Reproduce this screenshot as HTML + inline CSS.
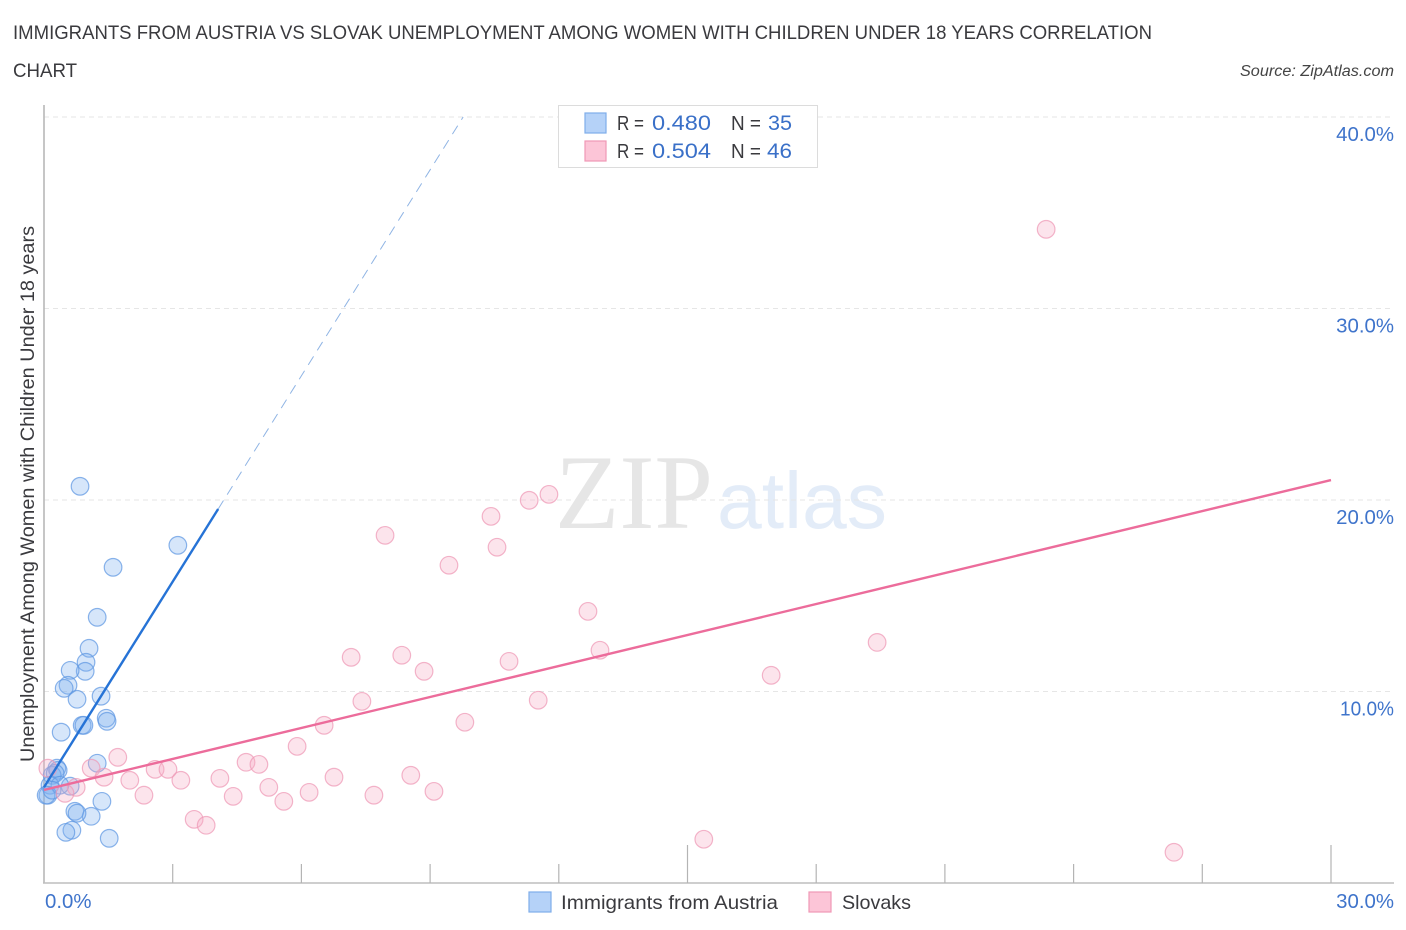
<!DOCTYPE html>
<html lang="en">
<head>
<meta charset="utf-8">
<title>Immigrants from Austria vs Slovak Unemployment Correlation Chart</title>
<style>
html,body{margin:0;padding:0;background:#fff;width:1406px;height:930px;overflow:hidden}
svg{display:block;font-family:"Liberation Sans",sans-serif}
</style>
</head>
<body>
<svg id="chart" xmlns="http://www.w3.org/2000/svg" width="1406" height="930" viewBox="0 0 1406 930">
  <g fill="#3a3a3e" font-size="19.5">
    <text x="13" y="39" textLength="1139" lengthAdjust="spacingAndGlyphs">IMMIGRANTS FROM AUSTRIA VS SLOVAK UNEMPLOYMENT AMONG WOMEN WITH CHILDREN UNDER 18 YEARS CORRELATION</text>
    <text x="13" y="77" textLength="64" lengthAdjust="spacingAndGlyphs">CHART</text>
  </g>
  <text x="1394" y="76" text-anchor="end" font-size="15.5" font-style="italic" fill="#444" textLength="154" lengthAdjust="spacingAndGlyphs">Source: ZipAtlas.com</text>

  <g>
    <text x="555" y="528" font-family="'Liberation Serif',serif" font-size="106" fill="#e6e6e6" textLength="158" lengthAdjust="spacingAndGlyphs">ZIP</text>
    <text x="717" y="528" font-size="80" fill="#e3ecf8" textLength="170" lengthAdjust="spacingAndGlyphs">atlas</text>
  </g>

  <g id="grid"></g>
  <g id="axes"></g>
  <g id="ylabels"></g>
  <g id="xlabels"></g>
  <text transform="translate(34,494) rotate(-90)" text-anchor="middle" font-size="19" fill="#3a3a3e" textLength="536" lengthAdjust="spacingAndGlyphs">Unemployment Among Women with Children Under 18 years</text>

  <g id="points-blue"></g>
  <g id="points-pink"></g>
  <g id="trends"></g>

  <g>
    <rect x="558.5" y="105.5" width="259" height="62" fill="#fff" stroke="#dcdcdc" stroke-width="1"></rect>
    <rect x="585" y="113" width="21" height="20" fill="#b5d2f8" stroke="#7fadea" stroke-width="1.2"></rect>
    <rect x="585" y="141" width="21" height="20" fill="#fcc5d7" stroke="#f098b6" stroke-width="1.2"></rect>
    <g font-size="20">
      <text x="617" y="130" fill="#3a3a3e" textLength="27" lengthAdjust="spacingAndGlyphs">R =</text>
      <text x="652" y="130" fill="#3a70c8" font-size="21.5" textLength="59" lengthAdjust="spacingAndGlyphs">0.480</text>
      <text x="731" y="130" fill="#3a3a3e" textLength="30" lengthAdjust="spacingAndGlyphs">N =</text>
      <text x="768" y="130" fill="#3a70c8" font-size="21.5" textLength="24" lengthAdjust="spacingAndGlyphs">35</text>
      <text x="617" y="158" fill="#3a3a3e" textLength="27" lengthAdjust="spacingAndGlyphs">R =</text>
      <text x="652" y="158" fill="#3a70c8" font-size="21.5" textLength="59" lengthAdjust="spacingAndGlyphs">0.504</text>
      <text x="731" y="158" fill="#3a3a3e" textLength="30" lengthAdjust="spacingAndGlyphs">N =</text>
      <text x="767" y="158" fill="#3a70c8" font-size="21.5" textLength="25" lengthAdjust="spacingAndGlyphs">46</text>
    </g>
  </g>

  <g>
    <g>
      <rect x="529" y="892" width="22" height="20" fill="#b5d2f8" stroke="#7fadea" stroke-width="1.2"></rect>
      <text x="561" y="909" font-size="19.5" fill="#3a3a3e" textLength="217" lengthAdjust="spacingAndGlyphs">Immigrants from Austria</text>
    </g>
    <g>
      <rect x="809" y="892" width="22" height="20" fill="#fcc5d7" stroke="#f098b6" stroke-width="1.2"></rect>
      <text x="842" y="909" font-size="19.5" fill="#3a3a3e" textLength="69" lengthAdjust="spacingAndGlyphs">Slovaks</text>
    </g>
  </g>
</svg>
<script>
const yTicks = [10, 20, 30, 40];
const yTickLabels = ["10.0%", "20.0%", "30.0%", "40.0%"];
const xTicks = [0, 3, 6, 9, 12, 15, 18, 21, 24, 27, 30];
const xTickMajor = [15, 30];
const xEndLabels = [0, 30];
const xEndLabelText = ["0.0%", "30.0%"];

const austriaX = [0.84,3.12,1.61,1.24,1.05,0.98,0.96,0.61,0.56,0.47,0.77,1.33,1.45,1.47,0.89,0.93,0.40,1.24,1.35,1.10,0.72,0.77,0.65,0.51,1.52,0.30,0.33,0.19,0.26,0.14,0.61,0.37,0.09,0.05,0.19];
const austriaY = [20.73,17.65,16.50,13.89,12.27,11.54,11.07,11.12,10.34,10.18,9.61,9.77,8.62,8.46,8.25,8.25,7.89,6.27,4.28,3.50,3.76,3.66,2.77,2.66,2.35,6.01,5.90,5.64,5.74,5.12,5.07,5.12,4.60,4.60,4.86];

const slovaksX = [23.36,11.77,11.31,10.42,7.95,10.56,9.44,12.68,19.42,12.96,8.34,7.16,10.84,8.86,16.95,7.41,11.52,9.81,6.53,5.90,1.72,1.10,2.59,2.89,4.71,5.01,6.76,8.55,4.10,3.19,2.00,1.40,5.24,6.18,7.69,9.09,2.33,4.41,5.59,3.50,3.78,15.38,26.34,0.75,0.49,0.09];
const slovaksY = [34.15,20.31,20.00,19.16,18.17,17.55,16.61,14.20,12.58,12.17,11.91,11.80,11.59,11.07,10.86,9.50,9.56,8.41,8.25,7.15,6.58,6.01,5.95,5.95,6.32,6.21,5.54,5.64,5.48,5.38,5.38,5.54,5.01,4.75,4.60,4.80,4.60,4.54,4.28,3.34,3.03,2.30,1.62,5.01,4.70,6.01];

const austriaTrendSolidX = [0, 4.06];
const austriaTrendSolidY = [5.0, 19.53];
const austriaTrendDashX = [4.06, 9.77];
const austriaTrendDashY = [19.53, 40];
const slovaksTrendX = [0, 30];
const slovaksTrendY = [4.86, 21.04];

const NS = 'http://www.w3.org/2000/svg';
function sx(v) { return 44 + v * 42.9; }
function sy(v) { return 883 - v * 19.15; }
function mk(tag, parent, attrs) {
  const el = document.createElementNS(NS, tag);
  for (const k in attrs) el.setAttribute(k, attrs[k]);
  parent.appendChild(el);
  return el;
}

const gridG = document.getElementById('grid');
yTicks.forEach(function (t) {
  const el = mk('line', gridG, { x1: 44, x2: 1394, y1: sy(t), y2: sy(t), stroke: '#e6e6e6', 'stroke-width': 1, 'stroke-dasharray': '5 4' });
  
  
});

const axesG = document.getElementById('axes');
const yAxisLine = mk('line', axesG, { x1: 44, x2: 44, y1: 105, y2: 883.5, stroke: '#b4b4b4', 'stroke-width': 1.5 });


const xAxisLine = mk('line', axesG, { x1: 43, x2: 1394, y1: 883, y2: 883, stroke: '#bdbdbd', 'stroke-width': 1.5 });


xTicks.forEach(function (t) {
  if (t === 0) return;
  const top = xTickMajor.indexOf(t) >= 0 ? 845 : 864;
  const el = mk('line', axesG, { x1: sx(t), x2: sx(t), y1: top, y2: 883, stroke: '#b4b4b4', 'stroke-width': 1.2 });
  
  
});

const yLabelG = document.getElementById('ylabels');
yTicks.forEach(function (t, i) {
  const el = mk('text', yLabelG, { x: 1394, y: sy(t) + 24, 'text-anchor': 'end', 'font-size': 20.4, fill: '#3f74cb' });
  el.textContent = yTickLabels[i];
  if (t === 10) el.setAttribute('textLength', '54');
  if (t === 10) el.setAttribute('lengthAdjust', 'spacingAndGlyphs');
  
  
});

const xLabelG = document.getElementById('xlabels');
xEndLabels.forEach(function (t, i) {
  const el = mk('text', xLabelG, { x: i === 0 ? 45 : 1394, y: 908, 'text-anchor': i === 0 ? 'start' : 'end', 'font-size': 20.4, fill: '#3f74cb' });
  el.textContent = xEndLabelText[i];
  
  
});

const blueG = document.getElementById('points-blue');
austriaX.forEach(function (x, i) {
  const el = mk('circle', blueG, { cx: sx(x), cy: sy(austriaY[i]) + 0.3, r: 8.8, fill: 'rgba(128,178,240,0.32)', stroke: '#5e97e2', 'stroke-opacity': 0.72, 'stroke-width': 1.2 });
  
  
});

const pinkG = document.getElementById('points-pink');
slovaksX.forEach(function (x, i) {
  const el = mk('circle', pinkG, { cx: sx(x), cy: sy(slovaksY[i]) + 0.3, r: 8.8, fill: 'rgba(246,170,196,0.32)', stroke: '#ef98b6', 'stroke-opacity': 0.72, 'stroke-width': 1.2 });
  
  
});

const trendG = document.getElementById('trends');
const blueDash = mk('line', trendG, { x1: sx(austriaTrendDashX[0]), y1: sy(austriaTrendDashY[0]), x2: sx(austriaTrendDashX[1]), y2: sy(austriaTrendDashY[1]), stroke: '#8fb4e4', 'stroke-width': 1, 'stroke-dasharray': '10 7' });


const blueSolid = mk('line', trendG, { x1: sx(austriaTrendSolidX[0]), y1: sy(austriaTrendSolidY[0]), x2: sx(austriaTrendSolidX[1]), y2: sy(austriaTrendSolidY[1]), stroke: '#2673d6', 'stroke-width': 2.4 });


const pinkSolid = mk('line', trendG, { x1: sx(slovaksTrendX[0]), y1: sy(slovaksTrendY[0]), x2: sx(slovaksTrendX[1]), y2: sy(slovaksTrendY[1]), stroke: '#ec6c9b', 'stroke-width': 2.4 });


</script>
</body>
</html>
